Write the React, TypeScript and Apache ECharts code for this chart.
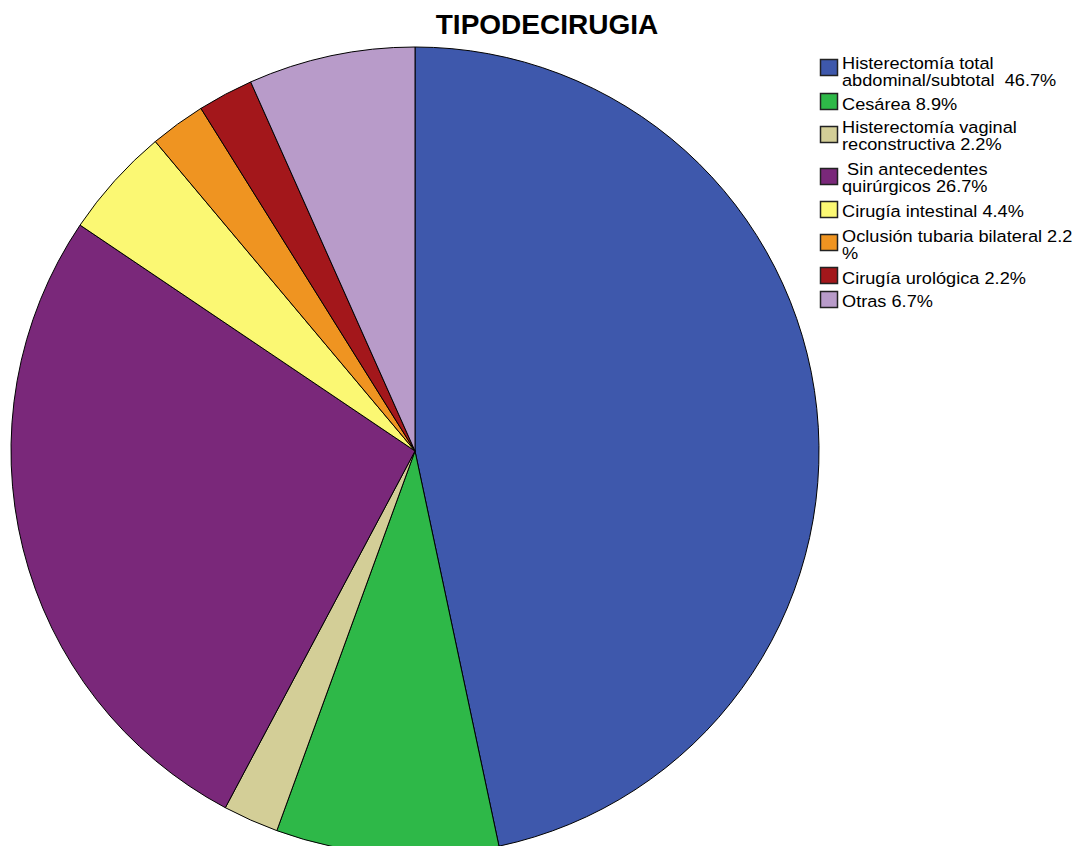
import React, { useEffect, useRef } from "react";
import * as echarts from "echarts";

const categories = [
  "Histerectomía total abdominal/subtotal",
  "Cesárea",
  "Histerectomía vaginal reconstructiva",
  "Sin antecedentes quirúrgicos",
  "Cirugía intestinal",
  "Oclusión tubaria bilateral",
  "Cirugía urológica",
  "Otras",
];
const counts = [21, 4, 1, 12, 2, 1, 1, 3];
const legendLabels = [
  "Histerectomía total\nabdominal/subtotal  46.7%",
  "Cesárea 8.9%",
  "Histerectomía vaginal\nreconstructiva 2.2%",
  " Sin antecedentes\nquirúrgicos 26.7%",
  "Cirugía intestinal 4.4%",
  "Oclusión tubaria bilateral 2.2\n%",
  "Cirugía urológica 2.2%",
  "Otras 6.7%",
];
const colors = ["#3E58AC", "#2EB848", "#D3CE97", "#7A287A", "#FBF873", "#EF9421", "#A3171B", "#B89BC9"];

// layout (legend row positions)
const firstBaselines = [68.7, 110, 133, 175, 217.3, 242.3, 284, 307.3];
const squareTops = [59, 93, 126, 168, 201, 234, 267, 291];
const FONT_SIZE = 17;
const LINE_H = 17;

const FONT = "'Liberation Sans', Arial, sans-serif";

export default function App() {
  const ref = useRef<HTMLDivElement>(null);
  useEffect(() => {
    if (!ref.current) return;
    const chart = echarts.init(ref.current, undefined, { renderer: "svg" });
    const items: any[] = [];
    legendLabels.forEach((lab, i) => {
      items.push({
        type: "rect",
        shape: { x: 820.5, y: squareTops[i] + 0.5, width: 17, height: 16 },
        style: { fill: colors[i], stroke: "#222", lineWidth: 1.5 },
      });
      items.push({
        type: "text",
        x: 842,
        y: firstBaselines[i] - (LINE_H / 2 + 0.3465 * FONT_SIZE),
        scaleX: 1.07,
        style: {
          text: lab,
          fill: "#000",
          font: FONT_SIZE + "px " + FONT,
          lineHeight: LINE_H,
          textVerticalAlign: "top",
        },
      });
    });
    items.push({
      type: "text",
      x: 547,
      y: 24.5,
      style: {
        text: "TIPODECIRUGIA",
        fill: "#000",
        font: "bold 28px " + FONT,
        textAlign: "center",
        textVerticalAlign: "middle",
      },
    });
    chart.setOption({
      animation: false,
      backgroundColor: "#fff",
      graphic: items,
      series: [
        {
          type: "pie",
          center: [415, 451],
          radius: 404,
          startAngle: 90,
          clockwise: true,
          label: { show: false },
          labelLine: { show: false },
          emphasis: { disabled: true },
          itemStyle: { borderColor: "#000", borderWidth: 1 },
          data: categories.map((c, i) => ({ name: c, value: counts[i], itemStyle: { color: colors[i] } })),
        },
      ],
    });
    return () => chart.dispose();
  }, []);
  return <div ref={ref} style={{ width: 1083, height: 854, margin: -8 }} />;
}
